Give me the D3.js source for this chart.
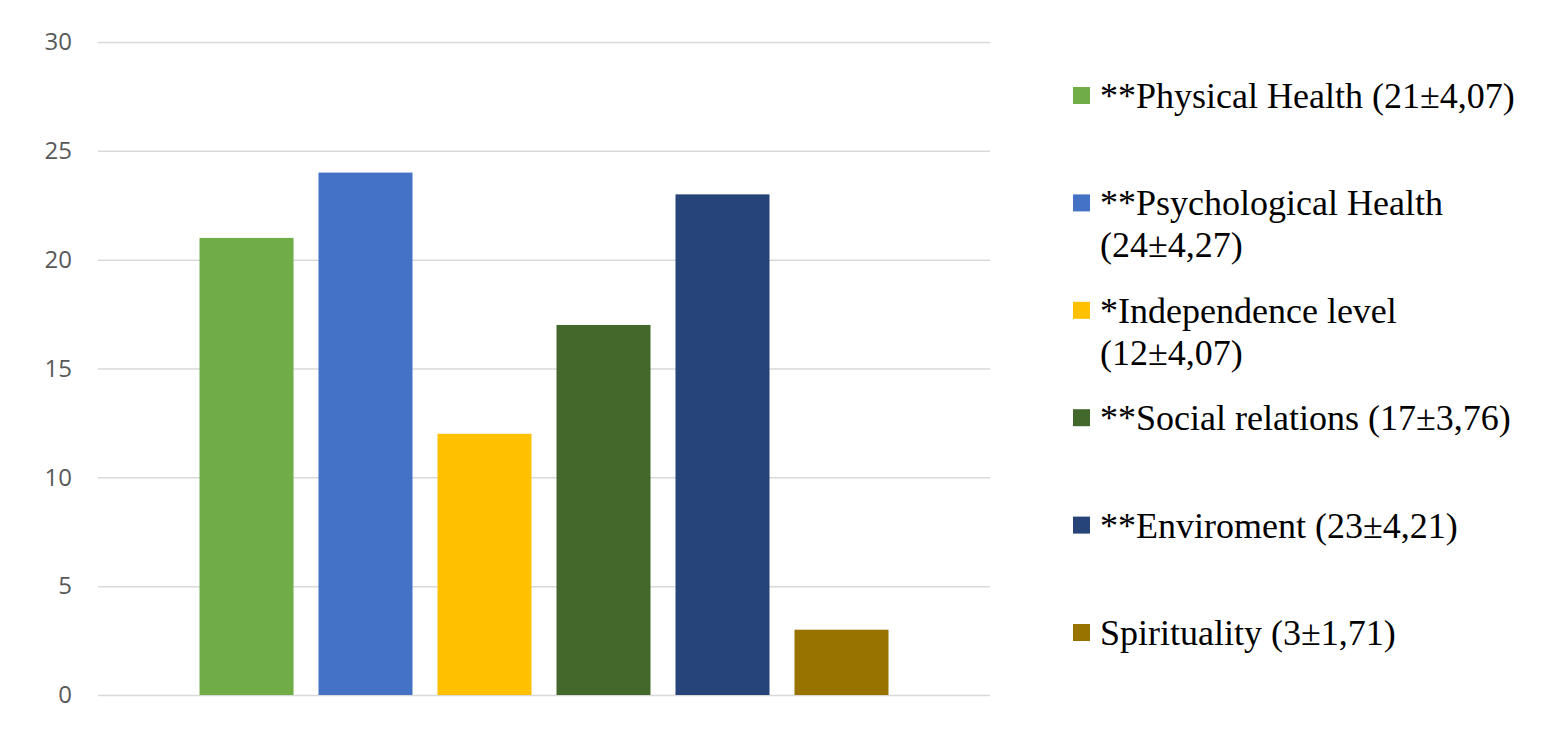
<!DOCTYPE html>
<html>
<head>
<meta charset="utf-8">
<script src="https://cdn.jsdelivr.net/npm/d3@7"></script>
<style>
  body { margin: 0; background: #fff; }
  #chart { width: 1543px; height: 743px; }
  .ytick text { font-family: "Open Sans", "Noto Sans", sans-serif; font-size: 24px; fill: #595959; }
</style>
</head>
<body>
<div id="chart"></div>
<script>
// values
const domains = ["Physical Health", "Psychological Health", "Independence level",
  "Social relations", "Enviroment", "Spirituality"];
const means = [21, 24, 12, 17, 23, 3];
const legendLines = [
  ["**Physical Health (21±4,07)"],
  ["**Psychological Health", "(24±4,27)"],
  ["*Independence level", "(12±4,07)"],
  ["**Social relations (17±3,76)"],
  ["**Enviroment (23±4,21)"],
  ["Spirituality (3±1,71)"]
];
const yTicks = [0, 5, 10, 15, 20, 25, 30];
const colors = ["#70AD47", "#4472C4", "#FFC000", "#43682B", "#264478", "#997300"];

const data = domains.map((d, i) => ({ name: d, value: means[i], legend: legendLines[i], color: colors[i] }));

const W = 1543, H = 743;
const plot = { left: 98, right: 990, top: 42, bottom: 695 };

const svg = d3.select("#chart").append("svg")
  .attr("width", W).attr("height", H);

const x = d3.scaleBand()
  .domain(domains)
  .range([plot.left, plot.right])
  .paddingInner(0.21)
  .paddingOuter(0.853);

const y = d3.scaleLinear()
  .domain([0, 30])
  .range([plot.bottom, plot.top]);

// gridlines + tick labels
const gy = svg.append("g")
  .attr("class", "ytick")
  .attr("transform", `translate(${plot.left},0)`)
  .call(d3.axisLeft(y).tickValues(yTicks).tickSize(-(plot.right - plot.left)).tickPadding(26));
gy.select(".domain").remove();
gy.selectAll(".tick line").attr("stroke", "#D9D9D9").attr("stroke-width", 1.5);
gy.selectAll(".tick text").attr("fill", null);

// bars
svg.append("g").selectAll("rect")
  .data(data)
  .join("rect")
  .attr("x", d => x(d.name))
  .attr("y", d => y(d.value))
  .attr("width", x.bandwidth())
  .attr("height", d => y(0) - y(d.value))
  .attr("fill", d => d.color);

// legend
const legend = svg.append("g").attr("transform", "translate(1073,0)");
const ly = d3.scaleLinear().domain([0, 5]).range([96, 633]);
const item = legend.selectAll("g")
  .data(data)
  .join("g")
  .attr("transform", (d, i) => `translate(0,${ly(i)})`);

item.append("rect")
  .attr("x", 0).attr("y", -9)
  .attr("width", 17).attr("height", 17)
  .attr("fill", d => d.color);

item.append("text")
  .attr("x", 27)
  .attr("y", 12)
  .style("font-family", "'Liberation Serif', 'Times New Roman', serif")
  .style("font-size", "36px")
  .attr("fill", "#000")
  .selectAll("tspan")
  .data(d => d.legend)
  .join("tspan")
  .attr("x", 27)
  .attr("dy", (t, j) => j === 0 ? 0 : 42)
  .text(t => t);
</script>
</body>
</html>
